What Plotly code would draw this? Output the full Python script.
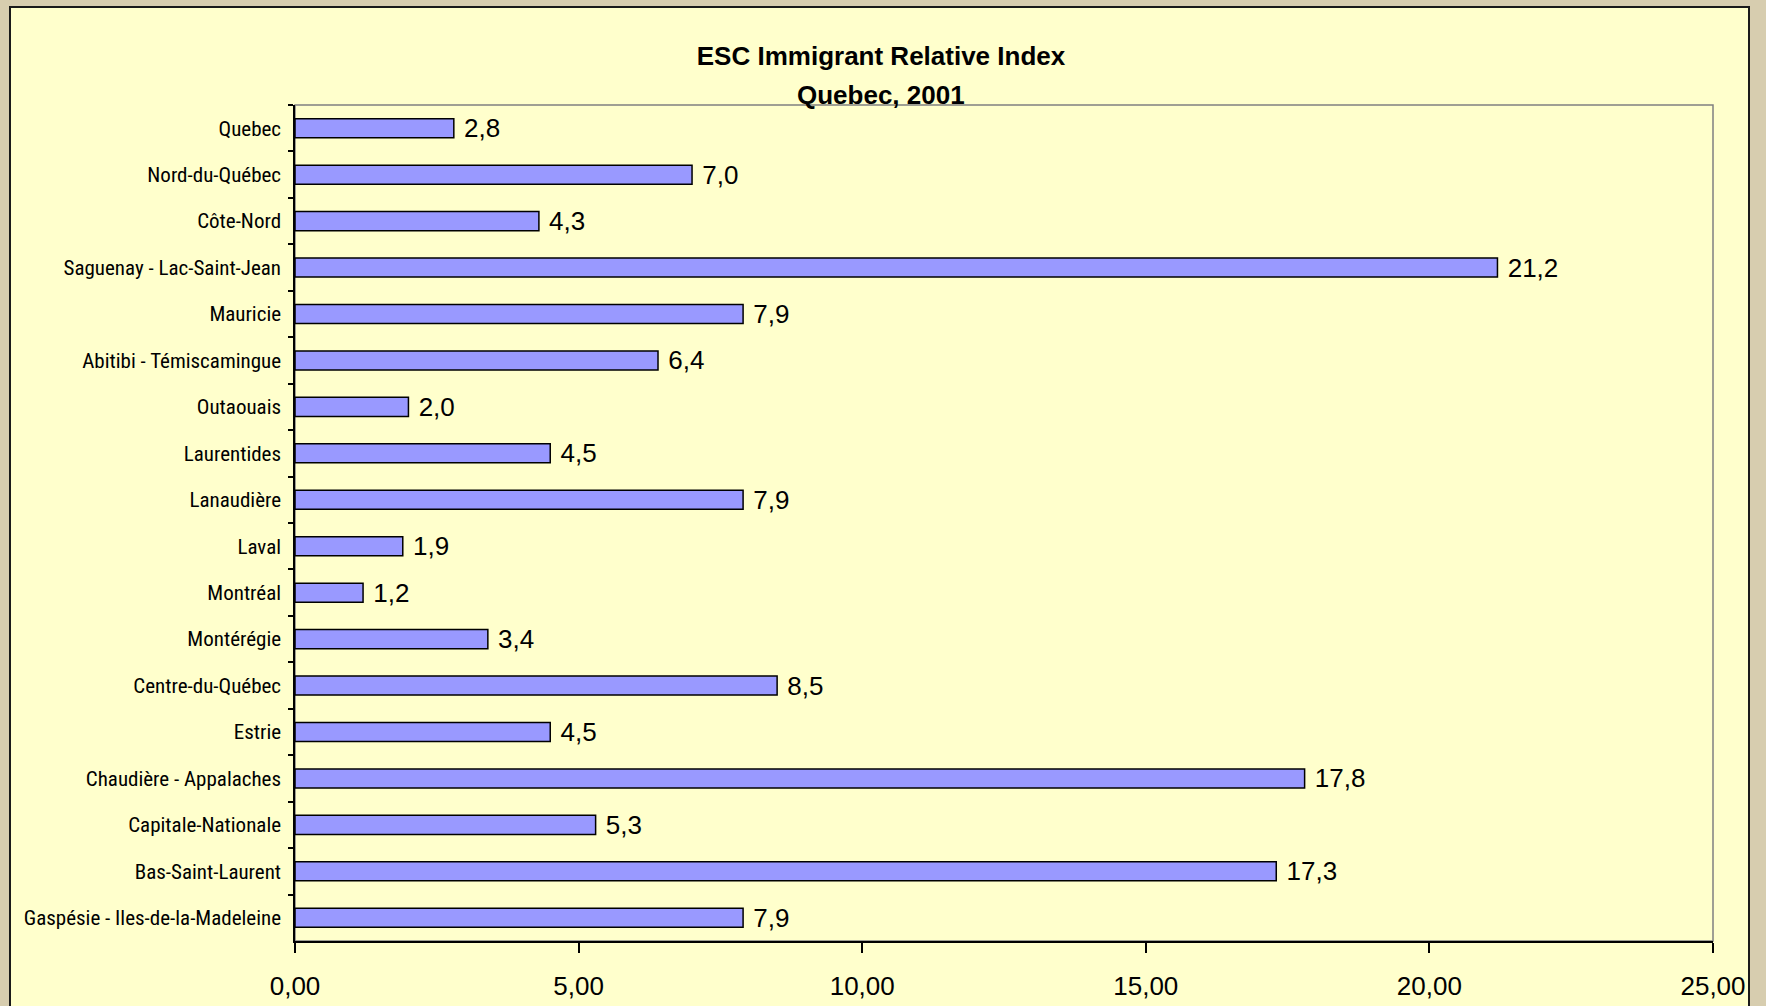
import plotly.graph_objects as go

# regions, top to bottom as in the chart
regions = [
    "Quebec", "Nord-du-Québec", "Côte-Nord", "Saguenay - Lac-Saint-Jean",
    "Mauricie", "Abitibi - Témiscamingue", "Outaouais", "Laurentides",
    "Lanaudière", "Laval", "Montréal", "Montérégie", "Centre-du-Québec",
    "Estrie", "Chaudière - Appalaches", "Capitale-Nationale",
    "Bas-Saint-Laurent", "Gaspésie - Iles-de-la-Madeleine",
]
index_values = [2.8, 7.0, 4.3, 21.2, 7.9, 6.4, 2.0, 4.5, 7.9, 1.9, 1.2, 3.4,
                8.5, 4.5, 17.8, 5.3, 17.3, 7.9]
x_ticks = [0, 5, 10, 15, 20, 25]

W, H = 1766, 1006
L, R, T, B = 295, 53, 105, 65
pw, ph = W - L - R, H - T - B

def px_x(x):
    return (x - L) / pw

def px_y(y):
    return (H - B - y) / ph

title_font = dict(family="Liberation Sans, Arial", size=26, color="black", weight="bold")

fig = go.Figure()
fig.add_trace(go.Bar(
    x=index_values, y=regions, orientation="h",
    marker=dict(color="#9999FF", line=dict(color="black", width=1.5)),
    texttemplate=" %{x:.1f}", textposition="outside", constraintext="none",
    textfont=dict(family="Liberation Sans, Arial", size=26, color="black"),
    cliponaxis=False, hoverinfo="x+y",
))

# yellow panel and grey plot frame
fig.add_shape(type="rect", xref="paper", yref="paper", layer="below",
              x0=px_x(10), x1=px_x(1749), y0=px_y(1012), y1=px_y(7),
              fillcolor="#FFFFCC", line=dict(color="#1a1a1a", width=2))
fig.add_shape(type="rect", xref="paper", yref="paper", layer="below",
              x0=0, x1=1, y0=0, y1=1, line=dict(color="#808080", width=1.5))

# second title line, a bit lower than plotly's own line spacing
fig.add_annotation(text="Quebec, 2001", xref="paper", yref="paper",
                   x=px_x(881), y=px_y(95), xanchor="center", yanchor="middle",
                   showarrow=False, font=title_font)

fig.update_layout(
    width=W, height=H,
    margin=dict(l=L, r=R, t=T, b=B, autoexpand=False),
    paper_bgcolor="#D7CDAF", plot_bgcolor="rgba(0,0,0,0)",
    separators=", ",
    bargap=0.59, showlegend=False,
    title=dict(text="ESC Immigrant Relative Index",
               xref="container", yref="container", x=881 / W, y=1 - 56 / H,
               xanchor="center", yanchor="middle", font=title_font),
)
fig.update_xaxes(range=[0, 25], tickvals=x_ticks, tickformat=".2f",
                 showgrid=False, zeroline=False, automargin=False,
                 showline=True, linecolor="black", linewidth=1.5,
                 ticks="outside", ticklen=10, tickcolor="black", tickwidth=1.5,
                 ticklabelstandoff=11,
                 tickfont=dict(family="Liberation Sans, Arial", size=26, color="black"))
fig.update_yaxes(autorange="reversed", showgrid=False, automargin=False,
                 showline=True, linecolor="black", linewidth=1.5,
                 ticks="outside", ticklen=5, tickcolor="black", tickwidth=1.5,
                 tickson="boundaries", ticklabelstandoff=8,
                 tickfont=dict(family="Roboto Condensed, Liberation Sans", size=21, color="black"))

# drop the default page margin so the figure sits at the window corner
fig.write_html("out.html", config={"displayModeBar": False},
               post_script="document.body.style.margin='0';")
